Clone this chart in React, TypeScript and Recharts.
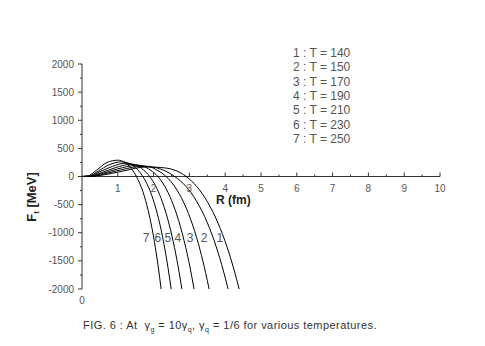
import { LineChart, Line, XAxis, YAxis, ReferenceLine, ReferenceDot } from "recharts";

// R (fm) and F_t (MeV) for each temperature curve
const r1 = [0, 0.3, 0.7, 1.2, 1.8, 2.2, 2.6, 2.91, 3.2, 3.5, 3.8, 4.05, 4.25, 4.39];
const f1 = [0, 5, 40, 105, 170, 160, 110, 0, -174, -445, -828, -1250, -1665, -2000];
const r2 = [0, 0.3, 0.65, 1.1, 1.65, 2.0, 2.32, 2.59, 2.9, 3.2, 3.5, 3.75, 3.95, 4.08];
const f2 = [0, 6, 50, 120, 180, 165, 100, 0, -173, -437, -821, -1250, -1678, -2000];
const r3 = [0, 0.25, 0.6, 1.0, 1.5, 1.85, 2.12, 2.35, 2.6, 2.85, 3.1, 3.3, 3.45, 3.55];
const f3 = [0, 6, 60, 135, 195, 180, 105, 0, -188, -473, -880, -1310, -1702, -2000];
const r4 = [0, 0.25, 0.55, 0.95, 1.35, 1.65, 1.92, 2.12, 2.3, 2.5, 2.7, 2.9, 3.02, 3.13];
const f4 = [0, 8, 70, 160, 215, 195, 110, 0, -162, -423, -785, -1268, -1624, -2000];
const r5 = [0, 0.2, 0.5, 0.85, 1.2, 1.5, 1.72, 1.89, 2.05, 2.2, 2.4, 2.55, 2.68, 2.79];
const f5 = [0, 6, 85, 180, 235, 205, 115, 0, -162, -374, -769, -1162, -1582, -2000];
const r6 = [0, 0.2, 0.45, 0.75, 1.1, 1.35, 1.55, 1.7, 1.85, 1.95, 2.1, 2.25, 2.4, 2.49];
const f6 = [0, 8, 95, 205, 260, 225, 125, 0, -178, -338, -654, -1072, -1612, -2000];
const r7 = [0, 0.15, 0.4, 0.7, 1.0, 1.2, 1.38, 1.52, 1.7, 1.85, 1.95, 2.05, 2.13, 2.21];
const f7 = [0, 5, 110, 250, 290, 250, 140, 0, -267, -606, -903, -1265, -1607, -2000];

const curveIds = ["1", "2", "3", "4", "5", "6", "7"];
const temperatures = [140, 150, 170, 190, 210, 230, 250];
// where the curve numbers sit (R, F)
const labelR = [3.85, 3.41, 3.02, 2.68, 2.4, 2.12, 1.79];
const labelF = -1080;

const xTicks = [0, 0.5, 1, 1.5, 2, 2.5, 3, 3.5, 4, 4.5, 5, 5.5, 6, 6.5, 7, 7.5, 8, 8.5, 9, 9.5, 10];
const yTicks = [-2000, -1750, -1500, -1250, -1000, -750, -500, -250, 0, 250, 500, 750, 1000, 1250, 1500, 1750, 2000];

const series = [
  [r1, f1],
  [r2, f2],
  [r3, f3],
  [r4, f4],
  [r5, f5],
  [r6, f6],
  [r7, f7],
].map(([rs, fs]) => rs.map((r, i) => ({ r, f: fs[i] })));

const W = 485;
const H = 346;
const TOP = 64;
const BOTTOM = 56;
const PLOT_H = H - TOP - BOTTOM - 1;
const FONT = "'Liberation Sans', Arial, sans-serif";
const AXIS = "#333";
const TEXT = "#555";

function XTick(props: any) {
  const { x, y, payload } = props;
  const v = payload.value;
  if (v === 0) {
    return (
      <text x={x} y={y + 15} textAnchor="middle" fontSize={10} fill={TEXT} fontFamily={FONT}>
        0
      </text>
    );
  }
  const zy = y - PLOT_H / 2;
  const major = Number.isInteger(v);
  return (
    <g>
      <line x1={x} x2={x} y1={zy} y2={zy - (major ? 4 : 2)} stroke={AXIS} />
      {major && (
        <text x={x} y={zy + 15} textAnchor="middle" fontSize={10} fill={TEXT} fontFamily={FONT}>
          {v}
        </text>
      )}
    </g>
  );
}

function YTick(props: any) {
  const { x, y, payload } = props;
  const v = payload.value;
  const major = v % 500 === 0;
  return (
    <g>
      <line x1={x - (major ? 4 : 2)} x2={x} y1={y} y2={y} stroke={AXIS} />
      {major && (
        <text x={x - 8} y={y + 3.5} textAnchor="end" fontSize={10} fill={TEXT} fontFamily={FONT}>
          {v}
        </text>
      )}
    </g>
  );
}

export default function App() {
  return (
    <div style={{ position: "absolute", left: 0, top: 0, width: W, height: H, background: "#fff" }}>
      <LineChart width={W} height={H} margin={{ top: TOP, right: 45, bottom: BOTTOM, left: 0 }}>
        <XAxis
          dataKey="r"
          type="number"
          domain={[0, 10]}
          ticks={xTicks}
          interval={0}
          height={1}
          axisLine={false}
          tickLine={false}
          tickSize={0}
          tickMargin={0}
          tick={XTick}
          allowDataOverflow
        />
        <YAxis
          type="number"
          domain={[-2000, 2000]}
          ticks={yTicks}
          interval={0}
          width={82}
          axisLine={{ stroke: AXIS }}
          tickLine={false}
          tickSize={0}
          tickMargin={0}
          tick={YTick}
          allowDataOverflow
        />
        <ReferenceLine y={0} stroke={AXIS} />
        {series.map((data, i) => (
          <Line
            key={curveIds[i]}
            data={data}
            dataKey="f"
            type="monotone"
            stroke="#000"
            strokeWidth={1}
            dot={false}
            isAnimationActive={false}
          />
        ))}
        {curveIds.map((id, i) => (
          <ReferenceDot
            key={"l" + id}
            x={labelR[i]}
            y={labelF}
            r={1}
            fill="none"
            stroke="none"
            label={{ value: id, position: "center", fontSize: 12, fill: TEXT, fontFamily: FONT }}
          />
        ))}
      </LineChart>
      <svg width={W} height={H} style={{ position: "absolute", left: 0, top: 0, pointerEvents: "none" }}>
        <text
          transform="translate(36,197) rotate(-90)"
          textAnchor="middle"
          fontSize={13}
          fontWeight="bold"
          fill="#222"
          fontFamily={FONT}
        >
          F<tspan fontSize={8} dy={3}>t</tspan>
          <tspan dy={-3}> [MeV]</tspan>
        </text>
        <text x={216} y={204} fontSize={12} fontWeight="bold" fill="#222" fontFamily={FONT}>
          R (fm)
        </text>
        {curveIds.map((id, i) => (
          <text key={"t" + id} x={293} y={57 + i * 14.3} fontSize={12} fill={TEXT} fontFamily={FONT}>
            {id} : T = {temperatures[i]}
          </text>
        ))}
      </svg>
      <div
        style={{
          position: "absolute",
          left: 83,
          top: 319,
          fontSize: 11,
          letterSpacing: 0.45,
          fontFamily: FONT,
          color: "#333",
          whiteSpace: "nowrap",
        }}
      >
        FIG. 6 : At &nbsp;γ<sub style={{ fontSize: 7 }}>g</sub> = 10γ<sub style={{ fontSize: 7 }}>q</sub>, γ
        <sub style={{ fontSize: 7 }}>q</sub> = 1/6 for various temperatures.
      </div>
    </div>
  );
}
